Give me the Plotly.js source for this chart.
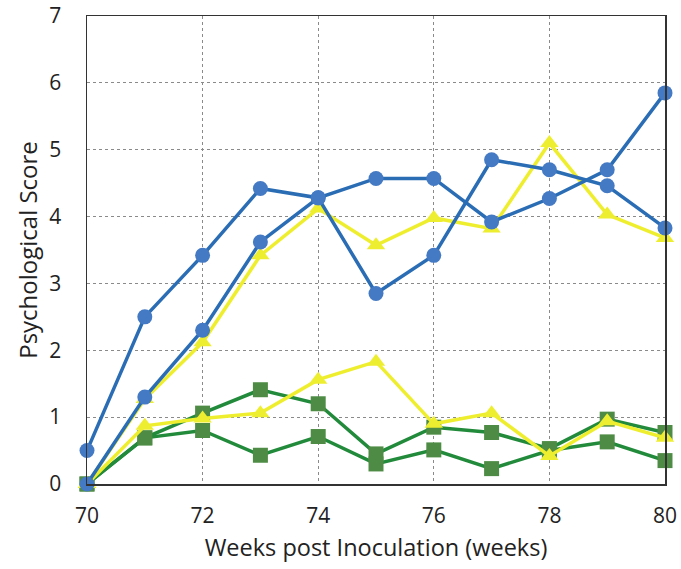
<!DOCTYPE html>
<html>
<head>
<meta charset="utf-8">
<script src="https://cdn.plot.ly/plotly-3.0.1.min.js"></script>
<style>html,body{margin:0;padding:0;background:#fff;}#chart{width:681px;height:569px;}</style>
</head>
<body>
<div id="chart"></div>
<script>
var weeks = [70, 71, 72, 73, 74, 75, 76, 77, 78, 79, 80];
var blueA = [0.5, 2.5, 3.42, 4.42, 4.28, 4.57, 4.57, 3.92, 4.27, 4.7, 5.85];
var blueB = [0, 1.3, 2.3, 3.62, 4.28, 2.85, 3.42, 4.85, 4.7, 4.46, 3.83];
var yellowA = [0, 1.27, 2.12, 3.42, 4.12, 3.57, 3.98, 3.82, 5.1, 4.03, 3.68];
var yellowB = [0, 0.87, 0.98, 1.06, 1.56, 1.83, 0.9, 1.06, 0.42, 0.94, 0.69];
var greenA = [0, 0.69, 1.06, 1.41, 1.2, 0.45, 0.85, 0.77, 0.53, 0.97, 0.77];
var greenB = [0, 0.69, 0.8, 0.43, 0.71, 0.3, 0.51, 0.23, 0.5, 0.63, 0.35];
var xTicks = [70, 72, 74, 76, 78, 80];
var yTicks = [0, 1, 2, 3, 4, 5, 6, 7];

var blueLine = '#2A6DB5', blueMark = '#4479C4';
var yelLine = '#EEEE2E', yelMark = '#EEEE30';
var grnLine = '#228B3B', grnMark = '#4E8C45';

function tr(y, lc, mc, sym, sz) {
  return {x: weeks, y: y, type: 'scatter', mode: 'lines+markers',
    line: {color: lc, width: 3.5},
    marker: {color: mc, symbol: sym, size: sz, line: {width: 0}},
    cliponaxis: false, showlegend: false, hoverinfo: 'skip'};
}
var data = [
  tr(greenB, grnLine, grnMark, 'square', 15),
  tr(greenA, grnLine, grnMark, 'square', 15),
  tr(yellowB, yelLine, yelMark, 'triangle-up', 16),
  tr(yellowA, yelLine, yelMark, 'triangle-up', 16),
  tr(blueB, blueLine, blueMark, 'circle', 15),
  tr(blueA, blueLine, blueMark, 'circle', 15)
];
var fam = '"Open Sans", "Noto Sans", sans-serif';
var layout = {
  width: 681, height: 569,
  margin: {l: 87, r: 16, t: 16, b: 85},
  paper_bgcolor: '#fff', plot_bgcolor: '#fff',
  font: {family: fam, color: '#222'},
  xaxis: {range: [70, 80], tickvals: xTicks, ticktext: xTicks.map(String),
    showgrid: true, gridcolor: '#8a8a8a', griddash: 'dot', gridwidth: 1,
    zeroline: false, showline: true, linecolor: '#333', linewidth: 1.5, mirror: true,
    ticks: '', ticklen: 0, ticklabelstandoff: 12,
    tickfont: {size: 21, color: '#222', family: fam},
    title: {text: 'Weeks post Inoculation (weeks)', font: {size: 23.5, color: '#222', family: fam}, standoff: 12}},
  yaxis: {range: [0, 7], tickvals: yTicks, ticktext: yTicks.map(String),
    showgrid: true, gridcolor: '#8a8a8a', griddash: 'dot', gridwidth: 1,
    zeroline: false, showline: true, linecolor: '#333', linewidth: 1.5, mirror: true,
    ticks: '', ticklen: 0, ticklabelstandoff: 20,
    tickfont: {size: 21, color: '#222', family: fam},
    title: {text: 'Psychological Score', font: {size: 24, color: '#222', family: fam}, standoff: 5}}
};
Plotly.newPlot('chart', data, layout, {staticPlot: true, displayModeBar: false});
</script>
</body>
</html>
